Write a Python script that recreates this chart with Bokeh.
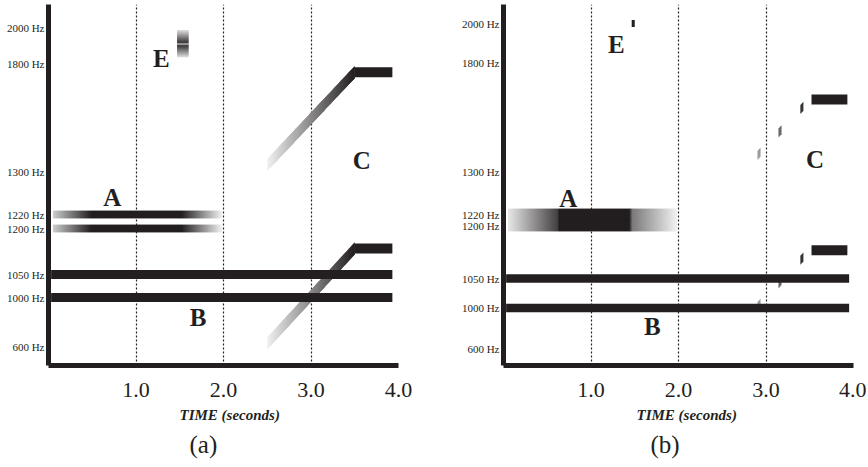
import numpy as np
from bokeh.plotting import figure
from bokeh.models import Range1d, FixedTicker, Title
from bokeh.layouts import row
from bokeh.embed import file_html
from bokeh.resources import INLINE
from bokeh.core.properties import value

DARK = "#231f20"
SERIF = "Liberation Serif"

# ---------------- axis definitions ----------------
TICK_HZ = [600, 1000, 1050, 1200, 1220, 1300, 1800, 2000]
TICK_LABELS = ["600 Hz", "1000 Hz", "1050 Hz", "1200 Hz", "1220 Hz", "1300 Hz", "1800 Hz", "2000 Hz"]
# schematic (non-linear) frequency axis: where each labelled frequency sits
AXIS_POS_A = [19, 68, 91, 137, 151, 194, 302, 338]
AXIS_POS_B = [17, 57.5, 87, 140, 151, 194, 303, 342]
TIME_TICKS = [1, 2, 3, 4]
TIME_LABELS = ["1.0", "2.0", "3.0", "4.0"]
GRID_TIMES = [1, 2, 3]

# ---------------- panel (a) data ----------------
A_HZ_a = [1200, 1220]
A_ENV_T_a = [0.05, 0.49, 1.52, 1.98]
A_ENV_L_a = [0.22, 1.0, 1.0, 0.06]
B_HZ = [1000, 1050]
B_T_a = [0.03, 3.93]
C_T = [2.5, 3.5]              # glide start / end
C_LEVEL = [0.06, 1.0]         # darkness along glide
C_FLAT_END_a = 3.93
C_HZ_a = [(625, 1135), (1330, 1760)]
E_T_a = [1.47, 1.60]
E_HZ_a = [1835, 1900, 1908, 1917, 1985]
E_L_a = [0.15, 0.9, 0.3, 0.9, 0.15]
LETTERS = ["A", "B", "C", "E"]
LBL_T_a = [0.73, 1.71, 3.58, 1.29]
LBL_HZ_a = [1252, 837, 1351, 1828]

# ---------------- panel (b) data ----------------
A_HZ_b = [1200, 1220]
A_ENV_T_b = [0.05, 0.62, 0.625, 1.44, 1.47, 1.98]
A_ENV_L_b = [0.1, 0.85, 1.0, 1.0, 0.6, 0.06]
B_T_b = [0.03, 3.95]
C_HZ_b = [(640, 1130), (1260, 1630)]
C_FLAT_T_b = [3.52, 3.93]
C_GLIMPSE_T_b = [2.92, 3.16, 3.41]
C_GLIMPSE_W = 0.035
E_T_b = [1.465, 1.50]
E_HZ_b = 2000
LBL_T_b = [0.74, 1.70, 3.56, 1.29]
LBL_HZ_b = [1250, 817, 1355, 1892]


def shade(level):
    level = float(np.clip(level, 0, 1))
    r = round(255 - level * (255 - 0x23))
    g = round(255 - level * (255 - 0x1f))
    b = round(255 - level * (255 - 0x20))
    return f"#{r:02x}{g:02x}{b:02x}"


def make_fig(width, right_border, pos, letter_t, letter_hz, tag, time_off, tag_off):
    p = figure(width=width, height=465, x_range=Range1d(0, 4), y_range=Range1d(0, 361),
               output_backend="svg", toolbar_location=None,
               min_border_left=48, min_border_right=right_border,
               min_border_top=4, min_border_bottom=100)
    p.outline_line_color = None
    p.background_fill_color = "white"
    p.ygrid.visible = False
    p.xgrid.ticker = FixedTicker(ticks=GRID_TIMES)
    p.xgrid.grid_line_color = DARK
    p.xgrid.grid_line_dash = "2 2"
    p.xgrid.grid_line_width = 1.2

    p.yaxis.ticker = FixedTicker(ticks=pos)
    p.yaxis.major_label_overrides = {pos[i]: TICK_LABELS[i] for i in range(len(pos))}
    p.yaxis.major_label_text_font = SERIF
    p.yaxis.major_label_text_font_size = "11px"
    p.yaxis.major_label_text_color = DARK
    p.yaxis.major_label_standoff = 4

    p.xaxis.ticker = FixedTicker(ticks=TIME_TICKS)
    p.xaxis.major_label_overrides = {TIME_TICKS[i]: TIME_LABELS[i] for i in range(len(TIME_TICKS))}
    p.xaxis.major_label_text_font = SERIF
    p.xaxis.major_label_text_font_size = "22px"
    p.xaxis.major_label_text_color = DARK
    p.xaxis.major_label_standoff = 17

    for ax in (p.xaxis, p.yaxis):
        ax.axis_line_width = 5
        ax.axis_line_color = DARK
        ax.major_tick_line_color = None
        ax.minor_tick_line_color = None
        ax.major_tick_out = 0
        ax.minor_tick_out = 0
        ax.major_tick_in = 0
        ax.minor_tick_in = 0

    p.add_layout(Title(text="TIME (seconds)", align="left", offset=time_off, standoff=11,
                       text_font=SERIF, text_font_size="15px", text_font_style="bold italic",
                       text_color=DARK), "below")
    p.add_layout(Title(text=tag, align="left", offset=tag_off, standoff=0,
                       text_font=SERIF, text_font_size="25px", text_font_style="normal",
                       text_color=DARK), "below")

    ys = [float(np.interp(h, TICK_HZ, pos)) for h in letter_hz]
    p.text(x=letter_t, y=ys, text=LETTERS, text_font=value(SERIF), text_font_style="bold",
           text_font_size="25px", text_align="center", text_baseline="middle", text_color=DARK)
    return p


def hbar(p, t0, t1, y, th, env_t=None, env_l=None, step=0.012):
    if env_t is None:
        p.quad(left=[t0], right=[t1], bottom=[y - th / 2], top=[y + th / 2],
               fill_color=DARK, line_color=None)
        return
    edges = np.append(np.arange(t0, t1, step), t1)
    left, right = edges[:-1], edges[1:]
    lev = np.interp((left + right) / 2, env_t, env_l)
    # each slice overlaps the next one so no seams show
    right_ext = np.minimum(right + step, t1)
    p.quad(left=left, right=right_ext, bottom=y - th / 2, top=y + th / 2,
           fill_color=[shade(l) for l in lev], line_color=None)


def glide(p, y0, y1, th, windows=None, n=90):
    def yat(t):
        return y0 + (y1 - y0) * (t - C_T[0]) / (C_T[1] - C_T[0])

    def lev(t):
        return np.interp(t, C_T, C_LEVEL)

    xs, ysl, cols = [], [], []
    if windows is None:
        edges = np.linspace(C_T[0], C_T[1], n + 1)
        w = edges[1] - edges[0]
        segs = [(edges[i], min(edges[i + 1] + w, C_T[1])) for i in range(n)]
    else:
        segs = [(c - C_GLIMPSE_W / 2, c + C_GLIMPSE_W / 2) for c in windows]
    for a, b in segs:
        ya, yb = yat(a), yat(b)
        xs.append([a, b, b, a])
        ysl.append([ya - th / 2, yb - th / 2, yb + th / 2, ya + th / 2])
        cols.append(shade(lev((a + b) / 2)))
    p.patches(xs, ysl, fill_color=cols, line_color=None)


# ---------------- panel (a) ----------------
pa = make_fig(455, 57, AXIS_POS_A, LBL_T_a, LBL_HZ_a, "(a)", 131, 141)
ya = lambda h: float(np.interp(h, TICK_HZ, AXIS_POS_A))
for f0, f1 in C_HZ_a:
    glide(pa, ya(f0), ya(f1), 12)
    hbar(pa, C_T[1], C_FLAT_END_a, ya(f1), 10)
for h in B_HZ:
    hbar(pa, B_T_a[0], B_T_a[1], ya(h), 9)
for h in A_HZ_a:
    hbar(pa, A_ENV_T_a[0], A_ENV_T_a[-1], ya(h), 7.5, A_ENV_T_a, A_ENV_L_a)
# E: short tone drawn with a vertical shading
e_lo, e_hi = ya(E_HZ_a[0]), ya(E_HZ_a[-1])
e_edges = np.arange(e_lo, e_hi, 0.75)
e_pos = [ya(h) for h in E_HZ_a]
pa.quad(left=E_T_a[0], right=E_T_a[1], bottom=e_edges, top=np.minimum(e_edges + 1.5, e_hi),
        fill_color=[shade(l) for l in np.interp(e_edges + 0.375, e_pos, E_L_a)], line_color=None)

# ---------------- panel (b) ----------------
pb = make_fig(411, 13, AXIS_POS_B, LBL_T_b, LBL_HZ_b, "(b)", 133, 147)
yb = lambda h: float(np.interp(h, TICK_HZ, AXIS_POS_B))
for f0, f1 in C_HZ_b:
    glide(pb, yb(f0), yb(f1), 9, windows=C_GLIMPSE_T_b)
    hbar(pb, C_FLAT_T_b[0], C_FLAT_T_b[1], yb(f1), 10)
for h in B_HZ:
    hbar(pb, B_T_b[0], B_T_b[1], yb(h), 8.5)
for h in A_HZ_b:
    hbar(pb, A_ENV_T_b[0], A_ENV_T_b[-1], yb(h), 11.5, A_ENV_T_b, A_ENV_L_b)
pb.quad(left=[E_T_b[0]], right=[E_T_b[1]], bottom=[yb(E_HZ_b) - 3.5], top=[yb(E_HZ_b) + 3.5],
        fill_color=DARK, line_color=None)

layout = row(pa, pb)
open("out.html", "w").write(file_html(layout, INLINE))
